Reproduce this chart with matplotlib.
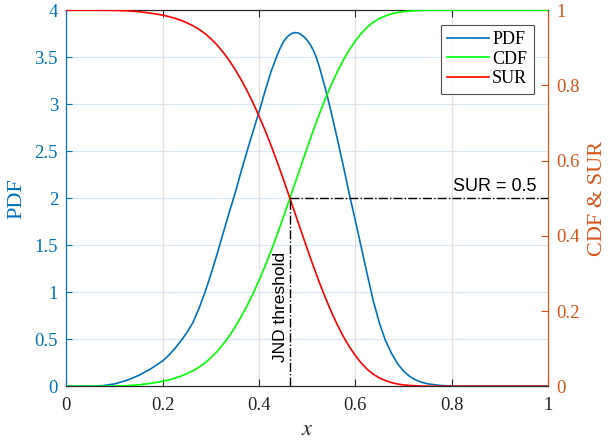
import matplotlib
matplotlib.use("Agg")
import matplotlib.pyplot as plt

x = [0.000, 0.025, 0.050, 0.075, 0.100, 0.125, 0.150, 0.175, 0.200,
     0.2125, 0.225, 0.2375, 0.25, 0.2625, 0.275, 0.2875, 0.3, 0.3125, 0.325,
     0.3375, 0.35, 0.3625, 0.375, 0.3875, 0.4, 0.4125, 0.425, 0.4375, 0.45,
     0.4625, 0.475, 0.4875, 0.5, 0.5125, 0.525, 0.5375, 0.55, 0.5625, 0.575,
     0.5875, 0.6, 0.6125, 0.625, 0.6375, 0.65, 0.6625, 0.675, 0.6875, 0.7,
     0.7125, 0.725, 0.7375, 0.75,
     0.775, 0.800, 0.825, 0.850, 0.875, 0.900, 0.925, 0.950, 0.975, 1.000]

# PDF read at its own, denser positions around the peak
x_pdf = [0.000, 0.025, 0.050, 0.075, 0.100, 0.125, 0.150, 0.175, 0.200,
         0.2125, 0.225, 0.2375, 0.25, 0.2625, 0.275, 0.2875, 0.3, 0.3125, 0.325,
         0.3375, 0.35, 0.3625, 0.375, 0.3875, 0.4, 0.4125, 0.425, 0.4375,
         0.44375, 0.45, 0.45625, 0.4625, 0.46875, 0.475, 0.48125, 0.4875,
         0.49375, 0.5, 0.50625, 0.5125, 0.51875, 0.525, 0.5375, 0.55, 0.5625,
         0.575, 0.5875, 0.6, 0.6125, 0.625, 0.6375, 0.65, 0.6625, 0.675,
         0.6875, 0.7, 0.7125, 0.725, 0.7375, 0.75,
         0.775, 0.800, 0.825, 0.850, 0.875, 0.900, 0.925, 0.950, 0.975, 1.000]

pdf = [0.0, 0.0, 0.001, 0.006, 0.025, 0.062, 0.115, 0.185, 0.27,
       0.33, 0.40, 0.48, 0.57, 0.675, 0.825, 0.995, 1.19, 1.40, 1.62,
       1.84, 2.05, 2.28, 2.50, 2.71, 2.92, 3.14, 3.35, 3.52,
       3.595, 3.66, 3.705, 3.735, 3.755, 3.762, 3.758, 3.74,
       3.715, 3.68, 3.635, 3.575, 3.50, 3.40, 3.17, 2.91, 2.63,
       2.34, 2.04, 1.76, 1.47, 1.18, 0.90, 0.67, 0.485, 0.35,
       0.24, 0.16, 0.105, 0.068, 0.042, 0.026,
       0.009, 0.002, 0.0, 0.0, 0.0, 0.0, 0.0, 0.0, 0.0, 0.0]

cdf = [0.0, 0.0, 0.00002, 0.0001, 0.0004, 0.0015, 0.0038, 0.0077, 0.013,
       0.0168, 0.0213, 0.0268, 0.0334, 0.0411, 0.0505, 0.0619, 0.0757, 0.092, 0.111,
       0.1326, 0.1569, 0.184, 0.2138, 0.2464, 0.2816, 0.3195, 0.36, 0.403, 0.448,
       0.4944, 0.5413, 0.588, 0.6346, 0.680, 0.7233, 0.7642, 0.8021, 0.8367, 0.8677,
       0.895, 0.9186, 0.9388, 0.9554, 0.9683, 0.978, 0.9851, 0.9903, 0.994, 0.9965,
       0.9978, 0.9988, 0.9995, 0.9998,
       1.0, 1.0, 1.0, 1.0, 1.0, 1.0, 1.0, 1.0, 1.0, 1.0]

sur = [1.0, 1.0, 0.99998, 0.9999, 0.9996, 0.9985, 0.9962, 0.9923, 0.987,
       0.9832, 0.9787, 0.9732, 0.9666, 0.9589, 0.9495, 0.9381, 0.9243, 0.908, 0.889,
       0.8674, 0.8431, 0.816, 0.7862, 0.7536, 0.7184, 0.6805, 0.64, 0.597, 0.552,
       0.5056, 0.4587, 0.412, 0.3654, 0.320, 0.2767, 0.2358, 0.1979, 0.1633, 0.1323,
       0.105, 0.0814, 0.0612, 0.0446, 0.0317, 0.022, 0.0149, 0.0097, 0.006, 0.0035,
       0.0022, 0.0012, 0.0005, 0.0002,
       0.0, 0.0, 0.0, 0.0, 0.0, 0.0, 0.0, 0.0, 0.0, 0.0]

jnd_x = 0.4645
sur_level = 0.5

left_ticks = [0, 0.5, 1, 1.5, 2, 2.5, 3, 3.5, 4]
left_labels = ["0", "0.5", "1", "1.5", "2", "2.5", "3", "3.5", "4"]
right_ticks = [0, 0.2, 0.4, 0.6, 0.8, 1]
right_labels = ["0", "0.2", "0.4", "0.6", "0.8", "1"]
x_ticks = [0, 0.2, 0.4, 0.6, 0.8, 1]
x_labels = ["0", "0.2", "0.4", "0.6", "0.8", "1"]

BLUE_AX = "#0072BD"
ORANGE_AX = "#D95319"
DARK = "#262626"
SERIF = ["Liberation Serif", "DejaVu Serif"]
SANS = ["Liberation Sans", "DejaVu Sans"]

plt.rcParams["font.family"] = SERIF
plt.rcParams["mathtext.fontset"] = "stix"

fig = plt.figure(figsize=(6.09, 4.45), dpi=100)
ax1 = fig.add_axes([0.109, 0.132, 0.791, 0.845])
ax2 = ax1.twinx()

# grid (left axis horizontal light blue, vertical light gray)
ax1.set_axisbelow(True)
for yt in left_ticks[1:-1]:
    ax1.axhline(yt, color="#dbe7f3", lw=0.9, zorder=0)
for xt in x_ticks[1:-1]:
    ax1.axvline(xt, color="#e1e1e1", lw=0.9, zorder=0)

l1, = ax1.plot(x_pdf, pdf, color=BLUE_AX, lw=1.2, label="PDF", zorder=3)
l2, = ax2.plot(x, cdf, color="#00ff00", lw=1.2, label="CDF", zorder=3)
l3, = ax2.plot(x, sur, color="#ff0000", lw=1.2, label="SUR", zorder=3)

ax2.plot([jnd_x, jnd_x], [0, sur_level], color="black", ls="-.", lw=1.0, zorder=4)
ax2.plot([jnd_x, 1.0], [sur_level, sur_level], color="black", ls="-.", lw=1.0, zorder=4)

ax2.text(0.975, sur_level + 0.008, "SUR = 0.5", ha="right", va="bottom",
         fontsize=13, family=SANS, color="black")
ax2.text(jnd_x - 0.004, 0.065, "JND threshold", rotation=90, ha="right",
         va="bottom", fontsize=12.5, family=SANS, color="black")

ax1.set_xlim(0, 1)
ax1.set_ylim(0, 4)
ax2.set_ylim(0, 1)

ax1.set_xticks(x_ticks)
ax1.set_xticklabels(x_labels)
ax1.set_yticks(left_ticks)
ax1.set_yticklabels(left_labels)
ax2.set_yticks(right_ticks)
ax2.set_yticklabels(right_labels)

ax1.tick_params(axis="x", direction="in", length=5, width=0.8, colors=DARK,
                labelsize=13.5, top=True, pad=8)
ax1.tick_params(axis="y", direction="in", length=4, width=0.8, colors=BLUE_AX,
                labelsize=13.5, pad=6)
ax2.tick_params(axis="y", direction="in", length=5, width=0.8,
                colors=ORANGE_AX, labelsize=13.5, pad=6)

for ax in (ax1, ax2):
    ax.spines["top"].set_color(DARK)
    ax.spines["bottom"].set_color(DARK)
    ax.spines["left"].set_color(BLUE_AX)
    ax.spines["right"].set_color(ORANGE_AX)
    for s in ax.spines.values():
        s.set_linewidth(0.8)

ax1.set_xlabel("$x$", fontsize=16, color=DARK, labelpad=5)
ax1.set_ylabel("PDF", fontsize=16, color=BLUE_AX, labelpad=6)
ax2.set_ylabel("CDF & SUR", fontsize=16, color=ORANGE_AX, labelpad=6)

leg = ax2.legend(handles=[l1, l2, l3], loc="upper right", fontsize=13,
                 frameon=True, fancybox=False, edgecolor=DARK,
                 borderaxespad=0.8, handlelength=2.3, handletextpad=0.2,
                 labelspacing=0.15, borderpad=0.35)
leg.get_frame().set_linewidth(0.8)
leg.set_zorder(10)

fig.savefig("out.png", dpi=100)
